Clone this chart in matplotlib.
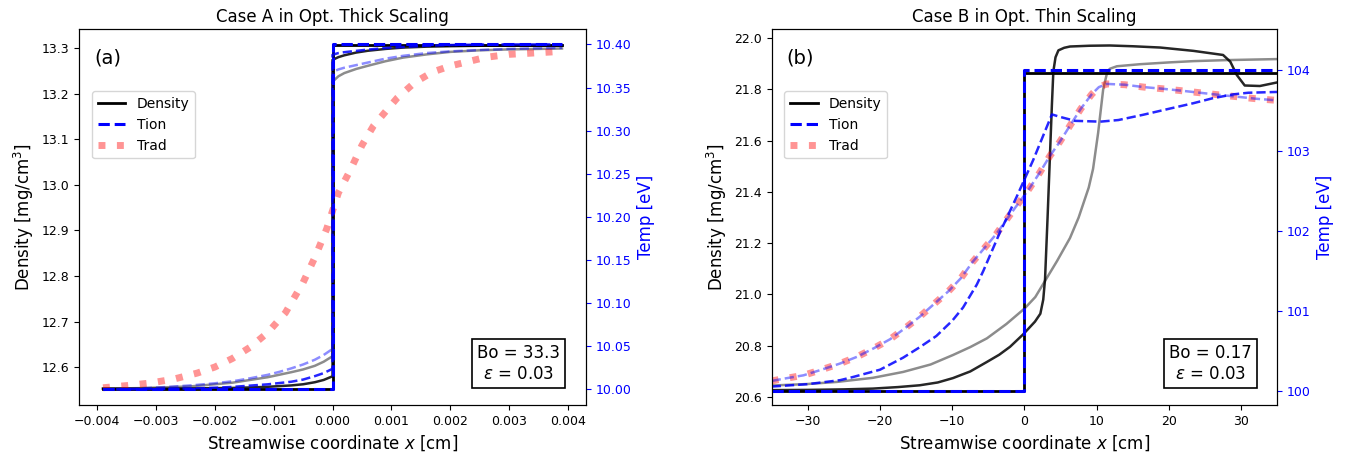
import numpy as np
import matplotlib.pyplot as plt
from matplotlib.ticker import MultipleLocator

# ---------------- Case A (optically thick) ----------------
xa_jump = [-0.0039, 0.0, 0.0, 0.0039]
rho_a_jump = [12.553, 12.553, 13.306, 13.306]
tion_a_jump = [10.00, 10.00, 10.40, 10.40]

xa_left = [-0.0039, -0.0033, -0.0028, -0.0024, -0.002, -0.0017, -0.0014,
           -0.0011, -0.0009, -0.0007, -0.0005, -0.0003, -0.00015, 0.0]
xa_right = [0.0, 0.0001, 0.0002, 0.0004, 0.0006, 0.0009, 0.0012, 0.0016,
            0.002, 0.0025, 0.003, 0.0035, 0.0039]

rho_a1_left = [12.553, 12.553, 12.553, 12.5535, 12.554, 12.5545, 12.5555,
               12.557, 12.5585, 12.560, 12.5625, 12.567, 12.572, 12.580]
rho_a1_right = [13.274, 13.280, 13.284, 13.290, 13.294, 13.298, 13.301,
                13.303, 13.304, 13.305, 13.305, 13.305, 13.305]
rho_a2_left = [12.553, 12.554, 12.556, 12.558, 12.5625, 12.566, 12.572,
               12.578, 12.5835, 12.589, 12.595, 12.603, 12.612, 12.624]
rho_a2_right = [13.226, 13.238, 13.245, 13.254, 13.261, 13.271, 13.279,
                13.286, 13.2915, 13.295, 13.297, 13.298, 13.299]

tion_a1_left = [10.000, 10.0003, 10.0007, 10.0012, 10.002, 10.003, 10.0045,
                10.006, 10.0075, 10.009, 10.0115, 10.0155, 10.019, 10.024]
tion_a1_right = [10.388, 10.390, 10.391, 10.3925, 10.394, 10.3958, 10.397,
                 10.3985, 10.3993, 10.3998, 10.40, 10.40, 10.40]
tion_a2_left = [10.000, 10.001, 10.003, 10.0048, 10.0072, 10.0095, 10.013,
                10.017, 10.0205, 10.0245, 10.029, 10.0345, 10.040, 10.047]
tion_a2_right = [10.368, 10.371, 10.373, 10.376, 10.379, 10.3835, 10.3868,
                 10.390, 10.392, 10.3935, 10.3948, 10.3955, 10.396]

xa_rad = [-0.0039, -0.0035, -0.0031, -0.0027, -0.0023, -0.002, -0.0017,
          -0.0014, -0.0011, -0.0008, -0.0005, -0.0003, -0.0001, 0.0001,
          0.0003, 0.0005, 0.0007, 0.0009, 0.0011, 0.0014, 0.0017, 0.002,
          0.0023, 0.0026, 0.003, 0.0034, 0.0039]
trad_a = [10.002, 10.0045, 10.0075, 10.012, 10.019, 10.026, 10.036, 10.049,
          10.066, 10.089, 10.124, 10.153, 10.186, 10.228, 10.254, 10.283,
          10.306, 10.322, 10.338, 10.356, 10.368, 10.375, 10.380, 10.385,
          10.3885, 10.390, 10.392]

# ---------------- Case B (optically thin) ----------------
xb_jump = [-35, 0, 0, 35]
rho_b_jump = [20.625, 20.625, 21.865, 21.865]
tion_b_jump = [100, 100, 104, 104]

xb_rho1 = [-35, -30, -25, -21, -17.5, -14.5, -12, -9.9, -7.5, -5.2, -3.5,
           -2.0, -0.2, 1.45, 2.2, 2.6, 2.85, 3.2, 3.5, 3.8, 4.0, 4.3, 4.7,
           5.5, 6.3, 9, 11.8, 15, 18.8, 23.4, 27.5, 28.5, 29.4, 30.5, 32.6, 35]
rho_b1 = [20.627, 20.628, 20.630, 20.633, 20.639, 20.646, 20.657, 20.674,
          20.700, 20.737, 20.765, 20.796, 20.844, 20.894, 20.925, 20.98,
          21.06, 21.30, 21.52, 21.74, 21.87, 21.925, 21.952, 21.962, 21.967,
          21.970, 21.971, 21.968, 21.963, 21.950, 21.934, 21.908, 21.856,
          21.815, 21.813, 21.827]

xb_rho2 = [-35, -30, -26, -21, -16.8, -13, -9.9, -7.5, -5.2, -2.5, 0, 1.5,
           3.0, 4.5, 6.3, 7.5, 8.9, 9.5, 10.2, 10.9, 11.4, 11.8, 12.8, 16,
           20, 23.4, 28, 35]
rho_b2 = [20.645, 20.651, 20.659, 20.675, 20.698, 20.727, 20.764, 20.795,
          20.829, 20.885, 20.945, 20.99, 21.06, 21.13, 21.22, 21.30, 21.417,
          21.49, 21.63, 21.80, 21.86, 21.88, 21.89, 21.898, 21.905, 21.91,
          21.914, 21.918]

xb_tion1 = [-35, -30, -25.5, -23.7, -20, -16.8, -14.5, -12.2, -10, -8.5,
            -6.6, -5.7, -3.4, -1.1, 1.2, 3.8, 4.9, 7, 10.5, 13, 16.4, 20,
            23.4, 26, 28.9, 31, 35]
tion_b1 = [100.06, 100.09, 100.14, 100.18, 100.27, 100.42, 100.55, 100.69,
           100.88, 101.045, 101.33, 101.50, 101.98, 102.42, 102.88, 103.45,
           103.42, 103.37, 103.36, 103.38, 103.445, 103.52, 103.59, 103.65,
           103.70, 103.72, 103.73]

xb_tion2 = [-35, -33.2, -30.6, -28.1, -25.6, -23.2, -20.8, -18.6, -16.5,
            -14.5, -12.5, -10.55, -8.8, -7.2, -5.6, -3.9, -2.4, -0.86, 0.66,
            2.15, 3.5, 4.9, 6.3, 7.8, 9.3, 10.3, 11.4, 13.9, 16.55, 19.1,
            21.8, 24.3, 26.8, 29.5, 32.1, 35]
tion_b2 = [100.13, 100.16, 100.20, 100.27, 100.345, 100.43, 100.54, 100.65,
           100.79, 100.93, 101.09, 101.245, 101.41, 101.61, 101.78, 101.96,
           102.15, 102.34, 102.525, 102.73, 102.93, 103.11, 103.31, 103.52,
           103.70, 103.79, 103.83, 103.82, 103.79, 103.77, 103.745, 103.72,
           103.695, 103.67, 103.645, 103.625]
trad_b = [100.13, 100.16, 100.20, 100.27, 100.345, 100.43, 100.54, 100.65,
          100.79, 100.93, 101.09, 101.245, 101.41, 101.61, 101.78, 101.96,
          102.15, 102.34, 102.525, 102.73, 102.93, 103.11, 103.31, 103.52,
          103.70, 103.79, 103.83, 103.82, 103.79, 103.77, 103.745, 103.72,
          103.695, 103.67, 103.645, 103.625]

TICK = 9
LAB = 12


def draw_panel(ax, x_jump, rho_jump, t_jump, rho_profiles, t_profiles, trad,
               title, tag, box_text):
    ax2 = ax.twinx()
    # density (left axis)
    h_rho, = ax.plot(x_jump, rho_jump, color='k', lw=2.0)
    (x1, r1), (x2, r2) = rho_profiles
    ax.plot(x1, r1, color='k', lw=1.8, alpha=0.85)
    ax.plot(x2, r2, color='k', lw=1.8, alpha=0.45)
    # temperatures (right axis)
    xr, tr = trad
    h_rad, = ax2.plot(xr, tr, color='red', alpha=0.42, lw=5, ls=':',
                      dash_capstyle='butt')
    h_t, = ax2.plot(x_jump, t_jump, color='blue', lw=2.2, ls='--')
    (x3, t3), (x4, t4) = t_profiles
    ax2.plot(x3, t3, color='blue', lw=1.8, ls='--', alpha=0.85)
    ax2.plot(x4, t4, color='blue', lw=1.8, ls='--', alpha=0.45)

    ax.set_title(title, fontsize=LAB, pad=5)
    ax.set_xlabel('Streamwise coordinate $x$ [cm]', fontsize=LAB)
    ax.set_ylabel('Density [mg/cm$^3$]', fontsize=LAB)
    ax2.set_ylabel('Temp [eV]', fontsize=LAB, color='blue')
    ax.tick_params(labelsize=TICK)
    ax2.tick_params(axis='y', labelsize=TICK, colors='blue')
    ax.text(0.03, 0.95, tag, transform=ax.transAxes, fontsize=14,
            va='top', ha='left')
    ax.text(0.868, 0.11, box_text, transform=ax.transAxes, fontsize=12,
            ha='center', va='center', linespacing=1.25,
            bbox=dict(boxstyle='square,pad=0.3', fc='white', ec='k', lw=1.2))
    ax.legend([h_rho, h_t, h_rad], ['Density', 'Tion', 'Trad'], fontsize=10,
              loc='upper left', bbox_to_anchor=(0.025, 0.835),
              borderaxespad=0.0, handlelength=2.0)
    return ax2


fig = plt.figure(figsize=(13.47, 4.59), dpi=100)
axa = fig.add_axes([0.0590, 0.1176, 0.3757, 0.8185])
axb = fig.add_axes([0.5729, 0.1176, 0.3753, 0.8185])

axa2 = draw_panel(axa, xa_jump, rho_a_jump, tion_a_jump,
                  [(xa_left + xa_right, rho_a1_left + rho_a1_right),
                   (xa_left + xa_right, rho_a2_left + rho_a2_right)],
                  [(xa_left + xa_right, tion_a1_left + tion_a1_right),
                   (xa_left + xa_right, tion_a2_left + tion_a2_right)],
                  (xa_rad, trad_a),
                  'Case A in Opt. Thick Scaling', '(a)',
                  'Bo = 33.3\n$\\varepsilon$ = 0.03')
axa.set_xlim(-0.0043, 0.0043)
axa.set_ylim(12.517, 13.341)
axa2.set_ylim(9.982, 10.4175)
axa.xaxis.set_major_locator(MultipleLocator(0.001))
axa.yaxis.set_major_locator(MultipleLocator(0.1))
axa2.yaxis.set_major_locator(MultipleLocator(0.05))

axb2 = draw_panel(axb, xb_jump, rho_b_jump, tion_b_jump,
                  [(xb_rho1, rho_b1), (xb_rho2, rho_b2)],
                  [(xb_tion1, tion_b1), (xb_tion2, tion_b2)],
                  (xb_tion2, trad_b),
                  'Case B in Opt. Thin Scaling', '(b)',
                  'Bo = 0.17\n$\\varepsilon$ = 0.03')
axb.set_xlim(-35, 35)
axb.set_ylim(20.569, 22.034)
axb2.set_ylim(99.83, 104.51)
axb.xaxis.set_major_locator(MultipleLocator(10))
axb.yaxis.set_major_locator(MultipleLocator(0.2))
axb2.yaxis.set_major_locator(MultipleLocator(1))

fig.savefig('out.png', dpi=100)
